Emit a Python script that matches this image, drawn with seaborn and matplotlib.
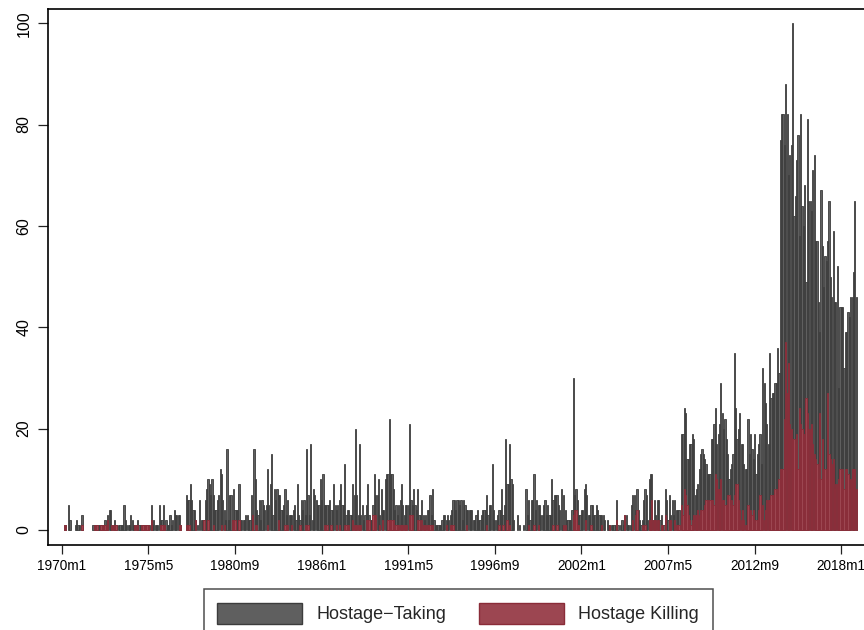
import matplotlib
matplotlib.use("Agg")
import matplotlib.pyplot as plt
import seaborn as sns
import pandas as pd

# Monthly counts of hostage-taking incidents, 1970m1 - 2018m12 (one row per year)
taking = [
    0, 0, 1, 1, 0, 5, 2, 0, 0, 0, 1, 2,          # 1970
    1, 1, 0, 3, 0, 0, 0, 0, 0, 0, 0, 1,          # 1971
    1, 1, 1, 1, 1, 1, 1, 1, 2, 1, 3, 4,          # 1972
    4, 1, 1, 2, 1, 0, 1, 1, 1, 1, 5, 2,          # 1973
    1, 1, 1, 3, 2, 1, 1, 1, 2, 1, 1, 1,          # 1974
    1, 1, 1, 1, 1, 1, 5, 1, 2, 1, 1, 1,          # 1975
    5, 2, 2, 5, 1, 2, 1, 1, 3, 1, 2, 4,          # 1976
    3, 3, 3, 3, 1, 0, 0, 0, 7, 6, 6, 9,          # 1977
    6, 4, 4, 2, 1, 0, 6, 2, 2, 2, 6, 8,          # 1978
    10, 9, 7, 10, 7, 4, 4, 6, 7, 12, 11, 6,      # 1979
    4, 2, 16, 2, 7, 7, 2, 8, 4, 4, 4, 9,         # 1980
    2, 2, 2, 2, 3, 3, 2, 2, 7, 3, 16, 10,        # 1981
    4, 3, 6, 2, 6, 5, 4, 5, 12, 5, 9, 15,        # 1982
    3, 8, 6, 8, 7, 7, 4, 4, 5, 8, 3, 6,          # 1983
    3, 3, 3, 4, 5, 2, 9, 3, 2, 6, 4, 6,          # 1984
    3, 16, 7, 3, 17, 2, 8, 7, 6, 5, 5, 10,       # 1985
    6, 11, 5, 5, 5, 5, 6, 4, 4, 9, 5, 4,         # 1986
    5, 6, 9, 5, 5, 13, 3, 4, 4, 3, 3, 9,         # 1987
    7, 20, 7, 3, 17, 3, 5, 2, 3, 5, 9, 3,        # 1988
    2, 2, 5, 11, 7, 7, 10, 3, 8, 4, 4, 10,       # 1989
    11, 11, 22, 11, 11, 8, 4, 5, 3, 5, 6, 9,     # 1990
    5, 3, 5, 5, 5, 21, 6, 5, 8, 5, 4, 8,         # 1991
    3, 3, 6, 3, 2, 3, 4, 4, 7, 3, 8, 2,          # 1992
    1, 1, 1, 1, 1, 2, 3, 3, 2, 3, 2, 3,          # 1993
    4, 6, 6, 4, 6, 6, 5, 6, 2, 6, 5, 4,          # 1994
    4, 4, 4, 4, 2, 2, 3, 4, 2, 2, 3, 4,          # 1995
    4, 4, 7, 3, 5, 5, 13, 4, 2, 2, 3, 4,         # 1996
    4, 8, 3, 5, 18, 9, 9, 17, 10, 9, 2, 0,       # 1997
    0, 3, 1, 0, 0, 1, 0, 8, 3, 6, 2, 6,          # 1998
    6, 11, 4, 6, 5, 5, 3, 3, 5, 6, 3, 5,         # 1999
    3, 3, 10, 6, 7, 7, 7, 5, 4, 8, 1, 7,         # 2000
    4, 2, 2, 2, 2, 4, 30, 7, 8, 6, 3, 3,         # 2001
    4, 4, 8, 9, 7, 3, 3, 5, 5, 3, 3, 5,          # 2002
    4, 3, 3, 3, 3, 2, 0, 2, 1, 1, 1, 1,          # 2003
    1, 1, 6, 1, 0, 1, 2, 1, 3, 3, 1, 1,          # 2004
    1, 5, 7, 7, 4, 8, 4, 2, 1, 2, 6, 8,          # 2005
    7, 2, 10, 11, 11, 2, 6, 3, 6, 6, 2, 3,       # 2006
    1, 1, 8, 6, 2, 7, 3, 6, 3, 6, 4, 4,          # 2007
    4, 0, 19, 19, 24, 23, 14, 14, 17, 17, 19, 18,  # 2008
    7, 8, 9, 12, 15, 16, 15, 14, 13, 11, 11, 11,   # 2009
    18, 18, 21, 24, 17, 19, 21, 29, 23, 20, 22, 18,  # 2010
    15, 10, 12, 13, 15, 35, 24, 18, 20, 23, 17, 17,  # 2011
    13, 12, 12, 22, 15, 19, 16, 14, 19, 11, 15, 17,  # 2012
    19, 13, 32, 29, 25, 21, 17, 35, 26, 27, 27, 29,  # 2013
    29, 36, 31, 77, 82, 82, 76, 88, 82, 70, 74, 76,  # 2014
    100, 62, 66, 73, 78, 58, 82, 64, 60, 68, 49, 81,  # 2015
    65, 65, 63, 71, 74, 57, 57, 45, 39, 67, 56, 48,  # 2016
    54, 53, 57, 65, 50, 46, 59, 45, 45, 52, 28, 44,  # 2017
    44, 44, 32, 39, 39, 43, 42, 46, 46, 51, 65, 46,  # 2018
]

# Monthly counts of incidents in which hostages were killed
killing = [
    0, 0, 1, 1, 0, 0, 0, 0, 0, 0, 0, 0,          # 1970
    0, 0, 0, 1, 0, 0, 0, 0, 0, 0, 0, 0,          # 1971
    1, 1, 1, 0, 0, 1, 1, 1, 1, 1, 2, 0,          # 1972
    0, 1, 1, 1, 1, 0, 0, 0, 0, 0, 0, 0,          # 1973
    0, 0, 0, 0, 0, 0, 1, 1, 1, 0, 0, 1,          # 1974
    1, 1, 1, 1, 1, 0, 2, 0, 0, 0, 0, 0,          # 1975
    0, 1, 1, 1, 1, 0, 0, 0, 0, 0, 0, 0,          # 1976
    0, 0, 0, 1, 1, 0, 0, 0, 1, 1, 1, 0,          # 1977
    0, 0, 0, 2, 0, 0, 0, 0, 0, 2, 0, 0,          # 1978
    2, 0, 0, 0, 1, 0, 0, 0, 0, 0, 1, 0,          # 1979
    1, 0, 0, 0, 0, 0, 2, 2, 2, 0, 0, 2,          # 1980
    0, 0, 0, 0, 0, 0, 0, 0, 0, 3, 0, 1,          # 1981
    1, 0, 0, 0, 0, 0, 0, 0, 1, 0, 0, 0,          # 1982
    0, 0, 0, 0, 2, 0, 0, 0, 0, 1, 1, 1,          # 1983
    0, 0, 1, 0, 0, 0, 0, 0, 1, 0, 0, 0,          # 1984
    1, 1, 1, 0, 0, 0, 0, 0, 0, 0, 0, 0,          # 1985
    0, 0, 1, 1, 1, 0, 0, 1, 0, 0, 0, 1,          # 1986
    0, 1, 0, 0, 0, 1, 1, 1, 1, 0, 0, 2,          # 1987
    1, 1, 1, 1, 1, 1, 0, 0, 0, 2, 2, 2,          # 1988
    0, 0, 3, 3, 3, 0, 0, 1, 0, 2, 0, 0,          # 1989
    0, 2, 2, 2, 2, 2, 1, 1, 1, 1, 1, 1,          # 1990
    1, 1, 1, 1, 0, 3, 3, 3, 0, 0, 0, 2,          # 1991
    2, 0, 2, 1, 1, 1, 1, 1, 1, 1, 1, 0,          # 1992
    0, 0, 0, 0, 0, 0, 0, 0, 1, 0, 0, 1,          # 1993
    1, 1, 0, 0, 0, 0, 0, 0, 0, 0, 0, 1,          # 1994
    0, 0, 0, 0, 0, 0, 0, 0, 0, 0, 0, 0,          # 1995
    0, 0, 1, 0, 0, 0, 0, 0, 0, 0, 0, 1,          # 1996
    0, 0, 1, 0, 0, 2, 0, 1, 0, 0, 0, 0,          # 1997
    0, 0, 0, 0, 0, 0, 0, 0, 0, 1, 0, 0,          # 1998
    0, 1, 0, 0, 1, 0, 0, 0, 0, 0, 0, 0,          # 1999
    0, 0, 0, 1, 0, 0, 1, 0, 0, 0, 0, 1,          # 2000
    1, 0, 0, 0, 0, 0, 3, 4, 4, 1, 1, 0,          # 2001
    0, 0, 0, 2, 0, 0, 0, 1, 0, 0, 0, 0,          # 2002
    0, 0, 0, 1, 0, 0, 0, 0, 0, 1, 0, 0,          # 2003
    0, 0, 2, 0, 0, 0, 0, 0, 3, 0, 0, 0,          # 2004
    0, 0, 2, 0, 3, 4, 0, 0, 0, 1, 0, 1,          # 2005
    0, 0, 2, 2, 6, 2, 2, 2, 2, 2, 0, 1,          # 2006
    1, 0, 3, 0, 0, 2, 2, 0, 0, 2, 1, 1,          # 2007
    1, 0, 5, 3, 8, 7, 5, 3, 2, 1, 2, 3,          # 2008
    3, 3, 4, 3, 4, 4, 4, 5, 6, 6, 2, 6,          # 2009
    6, 6, 5, 11, 10, 8, 7, 10, 6, 6, 5, 5,       # 2010
    7, 7, 5, 6, 5, 7, 9, 9, 6, 4, 2, 4,          # 2011
    2, 1, 1, 5, 2, 4, 3, 4, 2, 2, 2, 4,          # 2012
    7, 2, 5, 2, 4, 6, 6, 6, 7, 7, 7, 8,          # 2013
    7, 8, 10, 12, 12, 12, 22, 37, 27, 33, 21, 20,  # 2014
    18, 18, 17, 19, 12, 24, 21, 20, 19, 19, 26, 23,  # 2015
    20, 20, 21, 17, 15, 14, 13, 10, 23, 10, 18, 12,  # 2016
    12, 10, 27, 15, 14, 13, 14, 8, 9, 9, 10, 12,   # 2017
    10, 12, 8, 12, 12, 11, 8, 10, 12, 12, 12, 8,   # 2018
]

years = list(range(1970, 2019))
months = [f"{y}m{m}" for y in years for m in range(1, 13)]
tick_labels = ["1970m1", "1975m5", "1980m9", "1986m1", "1991m5",
               "1996m9", "2002m1", "2007m5", "2012m9", "2018m1"]
series_names = ["Hostage\u2212Taking", "Hostage Killing"]
y_ticks = [0, 20, 40, 60, 80, 100]

assert len(taking) == len(months) == len(killing)

df = pd.DataFrame({"month": months, "taking": taking, "killing": killing})
# zero months carry no bar at all
df["taking"] = df["taking"].where(df["taking"] > 0)
df["killing"] = df["killing"].where(df["killing"] > 0)

sns.set_theme(style="white")
plt.rcParams["font.family"] = ["Liberation Sans", "DejaVu Sans"]

W, H = 864, 630
fig = plt.figure(figsize=(W / 100, H / 100), dpi=100)
ax = fig.add_axes([48 / W, 85 / H, 1 - 48 / W + 0.003, (545 - 8.5) / H])

sns.barplot(data=df, x="month", y="taking", order=months, color="#5f5f5f",
            saturation=1, width=0.9, edgecolor="#3c3c3c", linewidth=0.6,
            errorbar=None, label=series_names[0], ax=ax)
sns.barplot(data=df, x="month", y="killing", order=months, color="#9c4651",
            saturation=1, width=0.9, edgecolor="#8a2c38", linewidth=0.6,
            errorbar=None, label=series_names[1], ax=ax)

handles, labels = ax.get_legend_handles_labels()
if ax.get_legend() is not None:
    ax.get_legend().remove()

ax.set_xlim(-10.2, 594.7)
ax.set_ylim(-2.96, 102.9)

ax.set_xticks([months.index(t) for t in tick_labels])
ax.set_xticklabels(tick_labels, fontsize=9.8)
ax.set_yticks(y_ticks)
ax.set_yticklabels([str(v) for v in y_ticks], fontsize=11.5, rotation=90, va="center")
ax.tick_params(axis="x", direction="out", length=6.5, width=0.9, color="#222222", pad=3.5,
               bottom=True, labelcolor="black")
ax.tick_params(axis="y", direction="out", length=7, width=0.9, color="#222222", pad=5,
               left=True, labelcolor="black")
ax.set_xlabel("")
ax.set_ylabel("")

for side in ["left", "bottom", "top"]:
    ax.spines[side].set_visible(True)
    ax.spines[side].set_color("black")
    ax.spines[side].set_linewidth(1.2)
ax.spines["right"].set_visible(False)

leg = fig.legend(handles, labels, loc="upper center", bbox_to_anchor=(0.5304, 1 - 589 / H),
                 ncol=2, fontsize=13, frameon=True, fancybox=False, handlelength=4.7,
                 handleheight=1.45, handletextpad=0.8, columnspacing=1.8, borderpad=0.75,
                 borderaxespad=0)
leg.get_frame().set_edgecolor("#222222")
leg.get_frame().set_linewidth(1.1)
for p in leg.get_patches():
    p.set_linewidth(1.0)

fig.savefig("out.png", dpi=100, facecolor="white")
